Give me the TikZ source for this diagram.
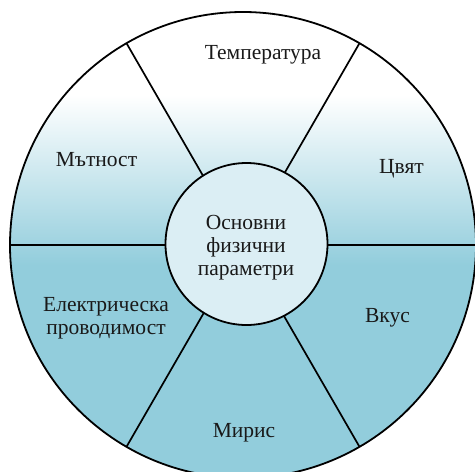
\documentclass[tikz,border=0pt]{standalone}
\usepackage{fontspec}
\setmainfont{Liberation Serif}
\definecolor{aqua}{HTML}{92CDDC}
\definecolor{hubfill}{HTML}{DBEEF4}
\tikzset{
  ring/.style={draw=black, line width=1.8pt},
  spoke/.style={draw=black, line width=1.7pt},
  hub/.style={circle, draw=black, line width=1.8pt, fill=hubfill,
              minimum size=162pt, inner sep=0pt},
  label/.style={font=\fontsize{21.5}{23}\selectfont, align=center,
                anchor=base, inner sep=0pt, text=black!90}
}
\begin{document}
\begin{tikzpicture}[x=1pt, y=-1pt]
  \useasboundingbox (0,0) rectangle (475,472);
  \coordinate (c) at (243,245);

  % wheel body: white at the top fading into aqua
  \begin{scope}
    \clip (c) circle [radius=233pt];
    \shade[top color=white, bottom color=aqua] (0,95) rectangle (480,265);
    \fill[aqua] (0,265) rectangle (480,480);
  \end{scope}

  % spokes dividing the six sectors
  \foreach \a in {0,60,120,180,240,300}
    \draw[spoke] (c) -- ++(\a:233pt and -233pt) coordinate (s\a);

  % outer rim
  \draw[ring] (c) circle [radius=233pt];

  % hub
  \node[hub] (hubnode) at (246.5,244) {};

  % sector labels (multi-line labels sit on the baseline of their last line)
  \node[label] (temp) at (263,59.5) {Температура};
  \node[label] (turb) at (96.5,166.5) {Мътност};
  \node[label] (colour) at (401.5,173.5) {Цвят};
  \node[label] (cond) at (106,334) {Електрическа\\проводимост};
  \node[label] (taste) at (387.5,322) {Вкус};
  \node[label] (smell) at (244,437) {Мирис};
  \node[label] (centre) at (246,275) {Основни\\физични\\параметри};
\end{tikzpicture}
\end{document}
